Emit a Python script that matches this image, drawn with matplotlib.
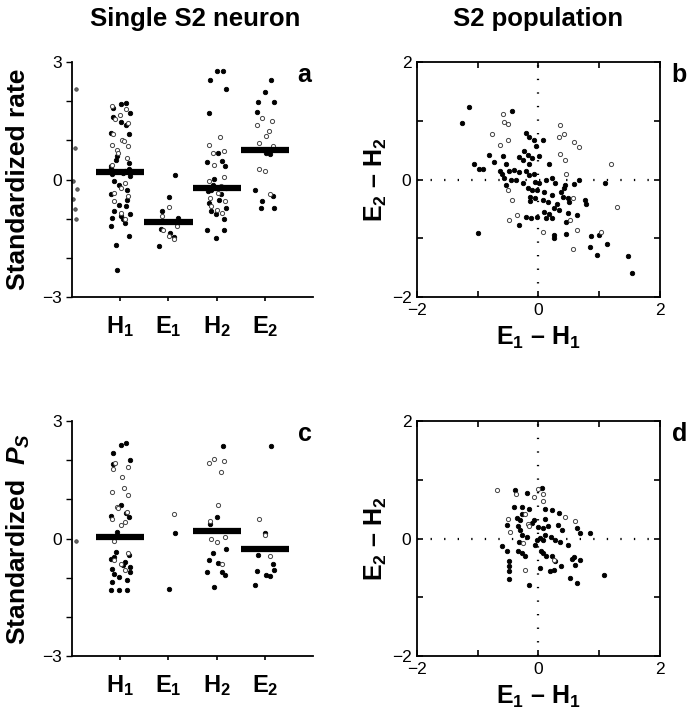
import numpy as np
import matplotlib
matplotlib.use('Agg')
import matplotlib.pyplot as plt

plt.rcParams['font.family'] = 'Liberation Sans'
plt.rcParams['mathtext.fontset'] = 'custom'
plt.rcParams['mathtext.rm'] = 'Liberation Sans'
plt.rcParams['mathtext.bf'] = 'Liberation Sans:bold'
plt.rcParams['mathtext.it'] = 'Liberation Sans:italic:bold'

#Data section ---------------------------------------------
categories = [r'$\mathbf{H_1}$', r'$\mathbf{E_1}$', r'$\mathbf{H_2}$', r'$\mathbf{E_2}$']

# panel a: standardized rate, single neuron (filled / open trials)
rate_filled = [
    [1.96, 1.94, 1.83, 1.7, 1.6, 1.46, 1.4, 1.19, 1.15, 0.6, 0.51, 0.43, 0.3, 0.21, 0.17, 0.13,
     0.09, -0.04, -0.13, -0.27, -0.38, -0.51, -0.64, -0.81, -0.89, -0.98, -1.02, -1.1, -1.19,
     -1.45, -1.66, -2.3, 0.26, 0.34, -0.68, -0.94],
    [0.11, -0.45, -0.8, -0.98, -1.26, -1.36, -1.46, -1.7],
    [2.77, 2.77, 2.55, 2.3, 1.7, 0.68, 0.47, 0.44, 0.34, 0.02, -0.13, -0.21, -0.3, -0.38, -0.51,
     -0.6, -0.72, -0.81, -0.89, -1.02, -1.28, -1.28, -1.49, -0.26],
    [2.54, 2.23, 1.97, 1.97, 1.72, 0.68, 0.64, -0.26, -0.41, -0.55, -0.72, -0.72],
]
rate_open = [
    [1.89, 1.79, 1.66, 1.55, 1.45, 1.17, 1.02, 0.98, 0.89, 0.85, 0.75, 0.68, 0.55, 0.38,
     -0.09, -0.21, -0.34, -0.43, -0.55, -0.85, -1.02],
    [-0.7, -0.94, -1.19, -1.28, -1.43, -1.53],
    [1.08, 0.87, 0.72, 0.68, 0.38, 0.07, -0.04, -0.17, -0.34, -0.47, -0.55, -0.68, -0.77, -0.85],
    [1.57, 1.49, 1.4, 1.23, 1.12, 0.94, 0.85, 0.26, 0.23, -0.37],
]
rate_stray = [2.3, 0.8, -0.05, -0.25, -0.5, -0.75, -1.0]
rate_mean = [0.2, -1.09, -0.21, 0.75]

# panel c: standardized P_S
ps_filled = [
    [2.43, 2.39, 2.19, 2.0, 1.9, 0.85, 0.64, 0.58, 0.54, 0.17, -0.34, -0.43, -0.51, -0.6, -0.68,
     -0.77, -0.85, -0.91, -0.98, -1.07, -1.32, -1.32, -1.32, -0.47, -0.72, -1.11],
    [0.13, -1.28],
    [2.36, 0.55, 0.37, -0.26, -0.55, -0.62, -0.85, -0.85, -0.94, -1.24, -0.37],
    [2.36, 0.15, -0.43, -0.81, -0.83, -0.94, -0.95, -1.19, -0.66],
]
ps_open = [
    [1.94, 1.82, 1.77, 1.58, 1.28, 1.19, 1.11, 0.81, 0.77, 0.68, 0.49, 0.43, 0.34, -0.06,
     -0.38, -0.55, -0.64, -0.81],
    [0.62],
    [2.02, 1.99, 1.92, 1.7, 0.85, 0.44, 0.04, 0.0, -0.09, -0.66],
    [0.49, 0.1, -0.45],
]
ps_stray = [-0.06]
ps_mean = [0.03, np.nan, 0.19, -0.27]

# panel b: population, rate differences
b_x_filled = [-1.15, -1.26, -0.44, -0.2, -0.16, -0.08, 0.07, -0.04, -0.81, -0.73, -0.58, -1.06, -0.98,
              -0.91, -0.54, -0.64, -0.6, -0.48, -0.4, -0.32, -0.26, -0.18, -0.1, 0.01, -0.24, -0.15,
              0.18, -0.32, -0.21, -0.15, -0.07, -0.57, -0.46, -0.37, -0.54, -0.26, -0.18, -0.05, 0.01,
              0.12, 0.23, 0.27, 0.59, 0.67, -0.1, -0.02, 0.09, -0.14, -0.06, -0.14, 0.07, 0.23, 0.37,
              0.42, 0.44, 0.4, 0.48, 0.51, 0.77, 0.78, 0.15, 0.31, 0.26, 0.09, 0.18, 0.34, 0.49, 0.64,
              -0.21, -0.32, -0.13, -0.02, 0.12, 0.23, 0.45, -0.99, 0.26, 0.26, 0.46, 0.87, 1.0, 0.84,
              1.12, 0.97, 1.47, 1.54, 1.09]
b_y_filled = [1.24, 0.97, 1.17, 0.8, 0.73, 0.68, 0.68, 0.57, 0.41, 0.3, 0.4, 0.26, 0.18,
              0.18, 0.27, 0.15, 0.1, 0.15, 0.16, 0.39, 0.34, 0.41, 0.36, 0.4, 0.49, 0.26,
              0.26, 0.13, 0.15, 0.07, 0.09, 0.03, 0.0, -0.01, -0.1, -0.06, -0.15, -0.04, -0.06,
              -0.01, 0.02, -0.06, -0.07, -0.01, -0.18, -0.17, -0.21, -0.3, -0.31, -0.36, -0.34, -0.27, -0.21,
              -0.15, -0.1, -0.3, -0.32, -0.38, -0.35, -0.42, -0.38, -0.41, -0.49, -0.55, -0.58, -0.52, -0.57, -0.61,
              -0.64, -0.77, -0.66, -0.63, -0.65, -0.66, -0.72, -0.91, -0.95, -0.99, -0.92, -0.96, -0.95, -1.14,
              -1.09, -1.29, -1.31, -1.59, -0.06]
b_x_open = [-0.59, -0.57, -0.5, -0.77, -0.51, -0.64, 0.36, 0.42, 0.34, 0.58, 0.67, 0.36, 0.43,
            -0.51, -0.43, 0.46, 0.56, -0.36, -0.48, 0.52, 0.08, 0.63, 0.56, 1.03, 1.19, 1.29]
b_y_open = [1.11, 0.98, 0.94, 0.77, 0.68, 0.59, 0.93, 0.77, 0.72, 0.64, 0.56, 0.44, 0.33,
            -0.18, -0.34, 0.09, -0.31, -0.6, -0.69, -0.69, -0.89, -0.86, -1.18, -0.89, 0.27, -0.47]

# panel d: population, P_S differences
d_x_filled = [-0.38, -0.19, 0.05, -0.4, -0.27, -0.15, 0.11, 0.22, 0.33, -0.27, -0.36, -0.3, -0.08,
              -0.11, 0.1, -0.52, -0.34, -0.01, 0.07, 0.16, 0.32, 0.64, 0.69, 0.85, 0.38, -0.3, -0.27,
              -0.19, 0.11, 0.21, 0.03, -0.03, 0.08, 0.27, 0.35, -0.6, -0.32, -0.05, -0.33, -0.27, -0.23,
              -0.52, 0.04, 0.08, 0.13, 0.22, 0.27, 0.49, 0.59, 0.68, 0.55, 0.6, -0.49, -0.49, -0.49,
              -0.49, 0.02, 0.19, 0.25, 0.37, 0.52, 0.63, -0.15, 1.08]
d_y_filled = [0.82, 0.77, 0.86, 0.53, 0.54, 0.5, 0.51, 0.48, 0.44, 0.41, 0.35, 0.31, 0.31,
              0.27, 0.33, 0.23, 0.21, 0.19, 0.18, 0.21, 0.23, 0.18, 0.1, 0.1, 0.14, 0.15, 0.06,
              0.02, 0.06, 0.02, 0.01, -0.03, -0.02, -0.02, -0.06, -0.13, -0.06, -0.11, -0.22, -0.25, -0.3,
              -0.22, -0.22, -0.25, -0.29, -0.3, -0.39, -0.11, -0.32, -0.36, -0.34, -0.45, -0.38, -0.47, -0.56,
              -0.69, -0.5, -0.55, -0.53, -0.47, -0.67, -0.76, -0.79, -0.62]
d_x_open = [-0.68, -0.37, -0.07, 0.0, 0.08, 0.07, -0.22, -0.18, -0.16, 0.43, -0.51, 0.6, -0.47,
            -0.25, 0.25, -0.22]
d_y_open = [0.83, 0.75, 0.71, 0.84, 0.75, 0.64, 0.41, 0.24, 0.21, 0.37, 0.33, 0.29, 0.11,
            -0.07, -0.36, -0.53]


#Plot section ---------------------------------------------
def jit(n, w=0.18):
    return w * np.sin(np.arange(n) * 2.4 + 0.7)


def strip_panel(ax, filled, opened, stray, means, letter):
    for i in range(4):
        xf = i + 1 + jit(len(filled[i]), 0.2)
        ax.plot(xf, filled[i], 'o', ms=3.2, mfc='k', mec='k', mew=0.6, clip_on=False)
        xo = i + 1 + jit(len(opened[i]), 0.17)[::-1]
        ax.plot(xo, opened[i], 'o', ms=3, mfc='white', mec='#444444', mew=0.7, clip_on=False)
        if not np.isnan(means[i]):
            ax.hlines(means[i], i + 0.5, i + 1.5, colors='k', lw=4.5, zorder=5)
    ax.plot(0.06 + jit(len(stray), 0.05), stray, 'o', ms=2.5, mfc='#666666', mec='#444444',
            mew=0.6, clip_on=False)
    ax.set_xlim(0, 5)
    ax.set_ylim(-3, 3)
    ax.set_xticks([1, 2, 3, 4])
    ax.set_xticklabels(categories, fontsize=17)
    ax.set_yticks([-3, -2, -1, 0, 1, 2, 3])
    ax.set_yticklabels(['\u22123', '', '', '0', '', '', '3'], fontsize=12.5)
    ax.tick_params(axis='x', length=3, width=1.2, pad=9)
    ax.tick_params(axis='y', length=4, width=1.0, pad=3)
    for s in ['top', 'right']:
        ax.spines[s].set_visible(False)
    for s in ['left', 'bottom']:
        ax.spines[s].set_linewidth(1.3)
    ax.text(0.965, 0.945, letter, transform=ax.transAxes, fontsize=18, fontweight='bold',
            ha='center', va='center')


def scatter_panel(ax, xf, yf, xo, yo, letter):
    ax.axhline(0, color='k', lw=1.6, ls=(0, (0.6, 5.5)), zorder=1)
    ax.axvline(0, color='k', lw=1.6, ls=(0, (0.6, 5.5)), zorder=1)
    ax.plot(xf, yf, 'o', ms=3.2, mfc='k', mec='k', mew=0.6)
    ax.plot(xo, yo, 'o', ms=3, mfc='white', mec='#444444', mew=0.7)
    ax.set_xlim(-2, 2)
    ax.set_ylim(-2, 2)
    ax.set_xticks([-2, -1, 0, 1, 2])
    ax.set_xticklabels(['\u22122', '', '0', '', '2'], fontsize=12.5)
    ax.set_yticks([-2, -1, 0, 1, 2])
    ax.set_yticklabels(['\u22122', '', '0', '', '2'], fontsize=12.5)
    ax.tick_params(direction='in', top=True, right=True, length=4, width=1.2, pad=4)
    for s in ax.spines.values():
        s.set_linewidth(1.3)
    ax.set_xlabel(r'$\mathbf{E_1}$' + ' \u2013 ' + r'$\mathbf{H_1}$',
                  fontsize=18, fontweight='bold', labelpad=5)
    ax.set_ylabel(r'$\mathbf{E_2}$' + ' \u2013 ' + r'$\mathbf{H_2}$',
                  fontsize=18, fontweight='bold', labelpad=2)
    ax.text(1.08, 0.945, letter, transform=ax.transAxes, fontsize=18, fontweight='bold',
            ha='center', va='center')


fig = plt.figure(figsize=(6.89, 7.19), dpi=100)
ax_a = fig.add_axes([0.1045, 0.5869, 0.3498, 0.3268])
ax_b = fig.add_axes([0.6052, 0.5869, 0.3527, 0.3268])
ax_c = fig.add_axes([0.1045, 0.0876, 0.3498, 0.3268])
ax_d = fig.add_axes([0.6052, 0.0876, 0.3527, 0.3268])

strip_panel(ax_a, rate_filled, rate_open, rate_stray, rate_mean, 'a')
strip_panel(ax_c, ps_filled, ps_open, ps_stray, ps_mean, 'c')
scatter_panel(ax_b, b_x_filled, b_y_filled, b_x_open, b_y_open, 'b')
scatter_panel(ax_d, d_x_filled, d_y_filled, d_x_open, d_y_open, 'd')

fig.text(0.026, 0.75, 'Standardized rate', rotation=90, fontsize=19, fontweight='bold',
         ha='center', va='center')
fig.text(0.026, 0.251, r'Standardized  $P_S$', rotation=90, fontsize=19, fontweight='bold',
         ha='center', va='center')
fig.text(0.283, 0.974, 'Single S2 neuron', fontsize=18.5, fontweight='bold', ha='center', va='center')
fig.text(0.781, 0.974, 'S2 population', fontsize=18.5, fontweight='bold', ha='center', va='center')

plt.savefig('out.png', dpi=100)
